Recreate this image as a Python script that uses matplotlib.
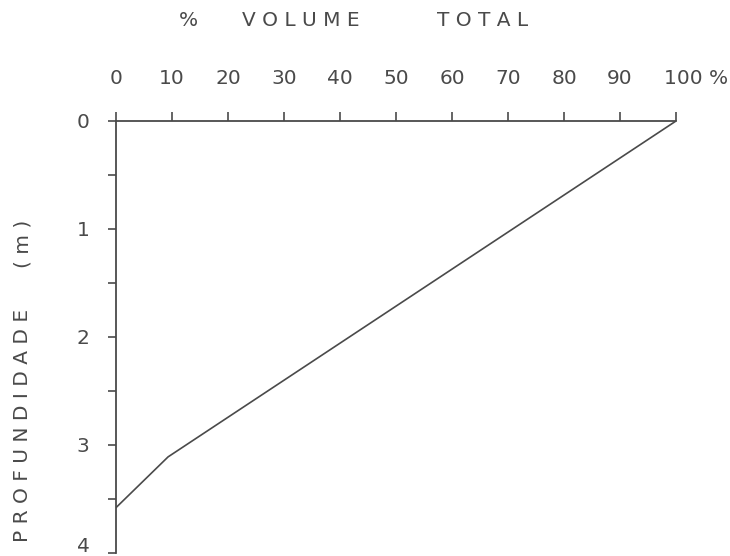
import matplotlib
matplotlib.use('Agg')
import matplotlib.pyplot as plt
from matplotlib.transforms import ScaledTranslation

# volume percent vs depth
volume_pct = [100, 9.3, 0]
depth_m = [0, 3.11, 3.58]

x_ticks = [0, 10, 20, 30, 40, 50, 60, 70, 80, 90, 100]
x_labels = ['0', '10', '20', '30', '40', '50', '60', '70', '80', '90', '100 %']
y_ticks = [0, 1, 2, 3, 4]
y_minor = [0.5, 1.5, 2.5, 3.5]

ink = '#4a4a4a'
plt.rcParams['font.family'] = ['DejaVu Sans']

fig = plt.figure(figsize=(7.3, 5.56), dpi=100)
ax = fig.add_axes([116 / 730, 1 - 553 / 556, 560 / 730, 432 / 556])

ax.plot(volume_pct, depth_m, color=ink, lw=1.2, solid_joinstyle='round')

ax.set_xlim(0, 100)
ax.set_ylim(4, 0)

for side in ['right', 'bottom']:
    ax.spines[side].set_visible(False)
for side in ['left', 'top']:
    ax.spines[side].set_color(ink)
    ax.spines[side].set_linewidth(1.3)

ax.xaxis.set_ticks_position('top')
ax.xaxis.set_label_position('top')
ax.set_xticks(x_ticks)
ax.set_xticklabels(x_labels)
ax.tick_params(axis='x', direction='out', length=6.5, width=1.2, color=ink,
               pad=17, labelsize=14.5, labelcolor=ink)
# the "100 %" label sits a little right of its tick
lab = ax.get_xticklabels()[-1]
lab.set_transform(lab.get_transform() + ScaledTranslation(0.20, 0, fig.dpi_scale_trans))

ax.set_yticks(y_ticks)
ax.set_yticks(y_minor, minor=True)
ax.tick_params(axis='y', which='both', direction='out', length=6, width=1.2,
               color=ink, pad=13, labelsize=14.5, labelcolor=ink)
# keep the bottom "4" inside the page
lab4 = ax.get_yticklabels()[-1]
lab4.set_transform(lab4.get_transform() + ScaledTranslation(0, 0.09, fig.dpi_scale_trans))

# hand-lettered headings with wide spacing
tkw = dict(fontsize=14.5, color=ink, ha='center', va='center')
fig.text(188 / 730, 1 - 20 / 556, '%', **tkw)
fig.text(301 / 730, 1 - 20 / 556, 'V O L U M E', **tkw)
fig.text(483 / 730, 1 - 20 / 556, 'T O T A L', **tkw)

fig.text(23 / 730, 1 - 425 / 556, 'P R O F U N D I D A D E', rotation=90, **tkw)
fig.text(23 / 730, 1 - 244 / 556, '( m )', rotation=90, **tkw)

fig.savefig('out.png', dpi=100, facecolor='white')
